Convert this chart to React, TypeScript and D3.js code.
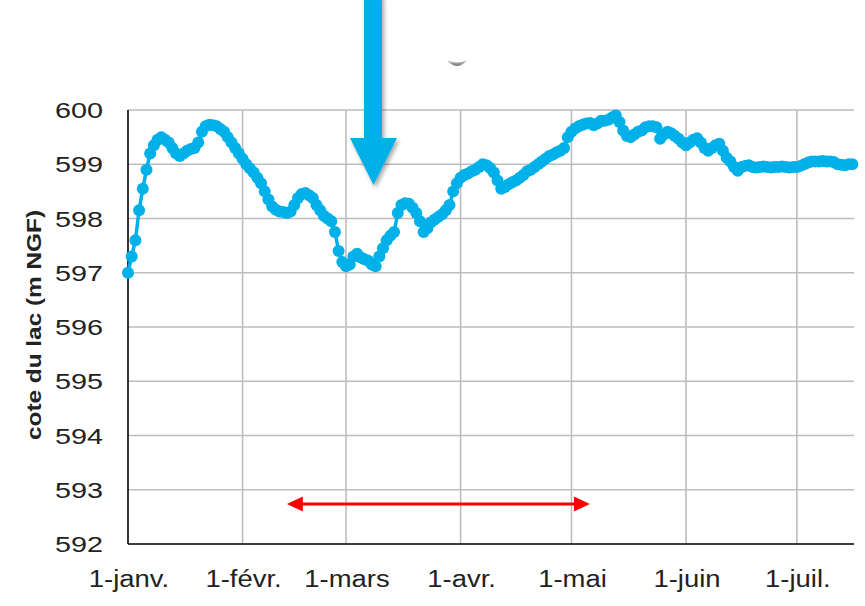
import React from "react";
import * as d3 from "d3";

// ---- data ----
const startDate = "2019-01-01";
const levels: number[] = [
  597.0, 597.3, 597.6, 598.15, 598.55, 598.9, 599.2, 599.35, 599.45, 599.5,
  599.45, 599.4, 599.3, 599.2, 599.15, 599.2, 599.25, 599.28, 599.3, 599.4,
  599.6, 599.7, 599.73, 599.72, 599.7, 599.65, 599.6, 599.5, 599.4, 599.3,
  599.2, 599.1, 599.0, 598.92, 598.85, 598.75, 598.65, 598.5, 598.35, 598.22,
  598.16, 598.13, 598.12, 598.1, 598.13, 598.25, 598.38, 598.45, 598.47, 598.43,
  598.38, 598.25, 598.15, 598.05, 598.0, 597.95, 597.75, 597.4, 597.2, 597.12,
  597.15, 597.3, 597.35, 597.28, 597.25, 597.22, 597.15, 597.12, 597.3, 597.45,
  597.6, 597.68, 597.75, 598.1, 598.25, 598.28, 598.27, 598.2, 598.1, 597.95,
  597.75, 597.82, 597.93, 597.98, 598.03, 598.08, 598.15, 598.25, 598.5, 598.65,
  598.75, 598.8, 598.83, 598.87, 598.9, 598.95, 599.0, 598.98, 598.93, 598.85,
  598.7, 598.55, 598.58, 598.63, 598.67, 598.7, 598.75, 598.8, 598.87, 598.9,
  598.95, 599.0, 599.05, 599.1, 599.15, 599.18, 599.22, 599.25, 599.3, 599.5,
  599.6, 599.66, 599.7, 599.73, 599.75, 599.76, 599.72, 599.75, 599.8, 599.8,
  599.82, 599.86, 599.9, 599.78, 599.62, 599.52, 599.5, 599.55, 599.6, 599.62,
  599.68, 599.7, 599.7, 599.68, 599.47, 599.55, 599.6, 599.57, 599.52, 599.47,
  599.4, 599.35, 599.4, 599.45, 599.48, 599.4, 599.3, 599.25, 599.3, 599.35,
  599.38, 599.25, 599.12, 599.05, 598.95, 598.88, 598.95, 598.97, 598.98, 598.95,
  598.94, 598.95, 598.96, 598.95, 598.94, 598.95, 598.95, 598.96, 598.95, 598.94,
  598.95, 598.95, 598.97, 599.0, 599.03, 599.05, 599.05, 599.05, 599.06, 599.05,
  599.05, 599.04, 599.0, 598.99, 598.98, 599.0, 599.0,
];
const yTicks: number[] = [592, 593, 594, 595, 596, 597, 598, 599, 600];
const monthTicks: string[] = ["2019-01-01", "2019-02-01", "2019-03-01", "2019-04-01", "2019-05-01", "2019-06-01", "2019-07-01"];
const monthLabels: string[] = ["1-janv.", "1-févr.", "1-mars", "1-avr.", "1-mai", "1-juin", "1-juil."];
const axisTitle = "cote du lac (m NGF)";
const arrowSpan: string[] = ["2019-02-13", "2019-05-06"];

const parse = d3.timeParse("%Y-%m-%d");

export default function App() {
  const W = 865, H = 606;
  const left = 128, right = 856, top = 110, bottom = 544;
  const x = d3.scaleTime()
    .domain([parse(startDate)!, d3.timeDay.offset(parse(startDate)!, 197)])
    .range([left, right]);
  const y = d3.scaleLinear().domain([592, 600]).range([bottom, top]);
  const pts = levels.map((v, i) => ({ d: d3.timeDay.offset(parse(startDate)!, i), v }));
  const line = d3.line<{ d: Date; v: number }>().x((p) => x(p.d)).y((p) => y(p.v));
  const blue = "#00B0E8";
  const grid = "#BDBDBD";
  const font = "Liberation Sans, Arial, sans-serif";

  const ra0 = x(parse(arrowSpan[0])!);
  const ra1 = x(parse(arrowSpan[1])!);
  const ray = 504;

  return (
    <svg width={W} height={H} style={{ position: "absolute", left: 0, top: 0, background: "#fff" }}>
      <defs>
        <filter id="sh" x="-50%" y="-20%" width="200%" height="150%">
          <feDropShadow dx="2" dy="3" stdDeviation="2" floodColor="#000" floodOpacity="0.35" />
        </filter>
        <linearGradient id="cres" x1="0" x2="0" y1="0" y2="1">
          <stop offset="0" stopColor="#ccc" />
          <stop offset="1" stopColor="#777" />
        </linearGradient>
      </defs>
      <rect x={0} y={0} width={W} height={H} fill="#fff" />
      {/* grid */}
      {yTicks.filter((t) => t > 592).map((t) => (
        <line key={"gy" + t} x1={left} x2={right - 2} y1={y(t)} y2={y(t)} stroke={grid} strokeWidth={1.6} />
      ))}
      {monthTicks.slice(1).map((m) => (
        <line key={"gx" + m} x1={x(parse(m)!)} x2={x(parse(m)!)} y1={top} y2={bottom} stroke={grid} strokeWidth={1.6} />
      ))}
      {/* axes */}
      <line x1={left} x2={left} y1={top} y2={bottom} stroke="#000" strokeWidth={1.6} />
      <line x1={left} x2={right - 2} y1={bottom} y2={bottom} stroke="#000" strokeWidth={1.6} />
      {/* y labels */}
      {yTicks.map((t) => (
        <text key={"yl" + t} transform={`translate(103,${y(t) + 8}) scale(1.28,1)`} textAnchor="end"
          fontFamily={font} fontSize={22.5} fill="#222">{t}</text>
      ))}
      {/* x labels */}
      {monthTicks.map((m, i) => (
        <text key={"xl" + m} transform={`translate(${x(parse(m)!) + 1},587) scale(1.12,1)`} textAnchor="middle"
          fontFamily={font} fontSize={24.5} fill="#222">{monthLabels[i]}</text>
      ))}
      {/* axis title */}
      <text transform={`translate(41,325) rotate(-90) scale(1.25,1)`} textAnchor="middle"
        fontFamily={font} fontSize={19.5} fontWeight="bold" fill="#222">{axisTitle}</text>
      {/* data */}
      <path d={line(pts) || ""} fill="none" stroke={blue} strokeWidth={3.5} />
      {pts.map((p, i) => (
        <circle key={i} cx={x(p.d)} cy={y(p.v)} r={6} fill={blue} />
      ))}
      {/* red double arrow */}
      <line x1={ra0 + 12} x2={ra1 - 12} y1={ray} y2={ray} stroke="#FF0000" strokeWidth={3} />
      <path d={`M${ra0},${ray} L${ra0 + 16},${ray - 7.5} L${ra0 + 16},${ray + 7.5} Z`} fill="#FF0000" />
      <path d={`M${ra1},${ray} L${ra1 - 16},${ray - 7.5} L${ra1 - 16},${ray + 7.5} Z`} fill="#FF0000" />
      {/* blue annotation arrow */}
      <path d="M364,-5 L382,-5 L382,138 L397,138 L373.5,185 L350,138 L364,138 Z" fill={blue} filter="url(#sh)" />
      {/* small gray crescent */}
      <path d="M447,60 Q457,72 467,60 Q457,65 447,60 Z" fill="url(#cres)" />
    </svg>
  );
}
